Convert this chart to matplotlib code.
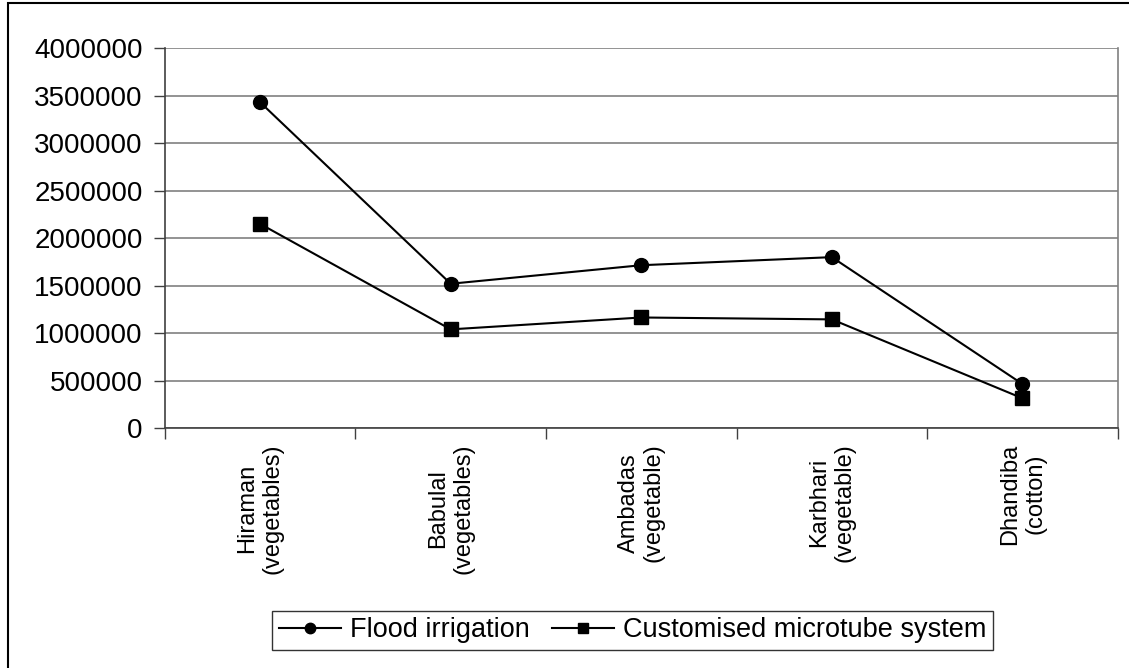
import matplotlib
matplotlib.use("Agg")
import matplotlib.pyplot as plt
from matplotlib.patches import Rectangle

plt.rcParams["font.family"] = ["Liberation Sans", "DejaVu Sans"]

farmers = ["Hiraman\n(vegetables)", "Babulal\n(vegetables)", "Ambadas\n(vegetable)",
           "Karbhari\n(vegetable)", "Dhandiba\n(cotton)"]
flood = [3430000, 1520000, 1715000, 1800000, 465000]
microtube = [2150000, 1040000, 1165000, 1145000, 315000]
yticks = [0, 500000, 1000000, 1500000, 2000000, 2500000, 3000000, 3500000, 4000000]

fig = plt.figure(figsize=(11.29, 6.68), dpi=100)
ax = fig.add_axes([0.146, 0.359, 0.844, 0.569])

x = list(range(len(farmers)))
ax.plot(x, flood, color="black", lw=1.5, marker="o", ms=10, label="Flood irrigation")
ax.plot(x, microtube, color="black", lw=1.5, marker="s", ms=9.5,
        label="Customised microtube system")

ax.set_xlim(-0.5, len(farmers) - 0.5)
ax.set_ylim(0, 4000000)
ax.set_yticks(yticks)
ax.set_yticklabels([str(v) for v in yticks], fontsize=20)
ax.yaxis.grid(True, color="#808080", lw=1.2)
ax.set_axisbelow(True)

# category labels at centres, tick marks between categories
ax.set_xticks(x)
ax.set_xticklabels(farmers, rotation=90, fontsize=17, multialignment="center",
                   linespacing=1.2)
ax.set_xticks([i - 0.5 for i in range(len(farmers) + 1)], minor=True)
ax.tick_params(axis="x", which="major", length=0, pad=11)
ax.tick_params(axis="x", which="minor", length=8, width=1, color="#404040", direction="out")
ax.tick_params(axis="y", length=8, width=1, color="#404040", direction="out", pad=8)

for side in ("left", "bottom"):
    ax.spines[side].set_color("#404040")
    ax.spines[side].set_linewidth(1.2)
ax.spines["right"].set_color("#808080")
ax.spines["right"].set_linewidth(1.2)
ax.spines["top"].set_visible(False)

leg = ax.legend(loc="lower center", bbox_to_anchor=(0.5604, 0.027), bbox_transform=fig.transFigure,
                ncol=2, fontsize=19.5, frameon=True, fancybox=False, handlelength=2.3,
                handletextpad=0.35, columnspacing=0.8, borderpad=0.24, borderaxespad=0,
                markerscale=0.75)
leg.get_frame().set_edgecolor("black")
leg.get_frame().set_linewidth(1.0)

# outer chart border
fig.add_artist(Rectangle((8 / 1129, -0.1), 1.2, 1.1 - 3 / 668, transform=fig.transFigure,
                         fill=False, edgecolor="black", lw=1.5))

fig.savefig("out.png", dpi=100)
